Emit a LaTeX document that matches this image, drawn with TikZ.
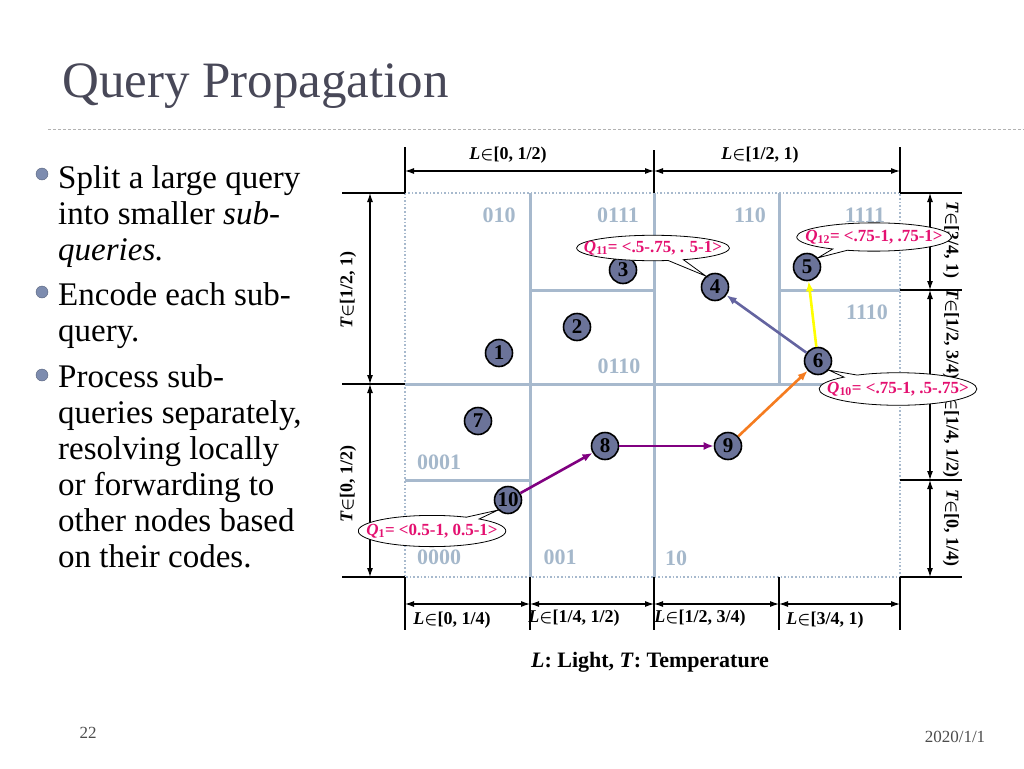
\documentclass[tikz,border=0pt]{standalone}
\usepackage{fontspec}
\setmainfont{Liberation Serif}
\usetikzlibrary{arrows.meta,shapes.callouts}

\definecolor{gridblue}{RGB}{167,185,205}
\definecolor{codeblue}{RGB}{165,184,203}
\definecolor{sensorfill}{RGB}{107,115,153}
\definecolor{querypink}{RGB}{228,16,112}
\definecolor{titlegray}{RGB}{72,72,88}
\definecolor{bulletblue}{RGB}{125,140,175}
\definecolor{flowpurple}{RGB}{128,0,128}
\definecolor{floworange}{RGB}{245,124,32}
\definecolor{flowslate}{RGB}{100,100,160}
\definecolor{flowyellow}{RGB}{255,255,0}

\newcommand{\dimL}{\textit{L}{\boldmath$\in$}}
\newcommand{\dimT}{\textit{T}{\boldmath$\in$}}

\tikzset{
  gridline/.style={gridblue, line width=3pt},
  border/.style={gridblue, line width=1.6pt, dotted},
  code/.style={text=codeblue, inner sep=0pt, font=\fontsize{22}{22}\selectfont\bfseries},
  sensor/.style={circle, draw=black, line width=1.6pt, fill=sensorfill, minimum size=27pt, inner sep=0pt, font=\fontsize{21}{21}\selectfont\bfseries},
  flow/.style={line width=2.6pt, -{Latex[length=10pt,width=8pt]}},
  dimline/.style={black, line width=1.1pt, {Latex[length=9pt,width=6pt]}-{Latex[length=9pt,width=6pt]}},
  tickline/.style={black, line width=1.1pt},
  dimlabel/.style={inner sep=0pt, font=\fontsize{18}{18}\selectfont\bfseries},
  qcall/.style={ellipse callout, draw=black, line width=0.8pt, fill=white, text=querypink, inner xsep=-15pt, inner ysep=3pt, callout pointer arc=12, font=\fontsize{17}{17}\selectfont\bfseries},
  bodytext/.style={anchor=base west, inner sep=0pt, font=\fontsize{33}{36}\selectfont},
  bulletdot/.style={circle, fill=bulletblue, draw=bulletblue!70!black, line width=0.4pt, minimum size=12pt, inner sep=0pt},
  footer/.style={inner sep=0pt, text=black!70, font=\fontsize{17}{17}\selectfont},
}

\begin{document}
\begin{tikzpicture}[x=1pt,y=-1pt]
  \useasboundingbox[fill=white] (0,0) rectangle (1024,768);

  % title and rule
  \node[anchor=base west, inner sep=0pt, text=titlegray, font=\fontsize{51}{51}\selectfont] (title) at (62,97) {Query Propagation};
  \draw[black!30, line width=1pt, dash pattern=on 3pt off 2pt] (48,129) -- (1024,129);

  % bullet text
  \node[bulletdot] (b1) at (42,174) {};
  \node[bulletdot] (b2) at (42,292) {};
  \node[bulletdot] (b3) at (42,375) {};
  \node[bodytext] (l1) at (58,188) {Split a large query};
  \node[bodytext] (l2) at (58,224) {into smaller \textit{sub-}};
  \node[bodytext] (l3) at (58,260) {\textit{queries.}};
  \node[bodytext] (l4) at (58,305) {Encode each sub-};
  \node[bodytext] (l5) at (58,341) {query.};
  \node[bodytext] (l6) at (58,387) {Process sub-};
  \node[bodytext] (l7) at (58,423) {queries separately,};
  \node[bodytext] (l8) at (58,459) {resolving locally};
  \node[bodytext] (l9) at (58,495) {or forwarding to};
  \node[bodytext] (l10) at (58,531) {other nodes based};
  \node[bodytext] (l11) at (58,567) {on their codes.};

  % zones
  \draw[gridline] (530,193) -- (530,577);
  \draw[gridline] (654,193) -- (654,577);
  \draw[gridline] (779,193) -- (779,384);
  \draw[gridline] (405,384) -- (900,384);
  \draw[gridline] (530,290) -- (654,290);
  \draw[gridline] (779,290) -- (900,290);
  \draw[gridline] (405,480) -- (530,480);
  \draw[border] (405,193) rectangle (900,577);

  % dimensions
  \draw[tickline] (405,147) -- (405,193);
  \draw[tickline] (654,150) -- (654,193);
  \draw[tickline] (900,147) -- (900,193);
  \draw[dimline] (405,171) -- (654,171);
  \draw[dimline] (654,171) -- (900,171);
  \foreach \y in {193,384,577}
    \draw[tickline] (342,\y) -- (405,\y);
  \draw[dimline] (370,193) -- (370,384);
  \draw[dimline] (370,384) -- (370,577);
  \foreach \y in {193,290,384,480,577}
    \draw[tickline] (900,\y) -- (962,\y);
  \draw[dimline] (930,193) -- (930,290);
  \draw[dimline] (930,290) -- (930,384);
  \draw[dimline] (930,384) -- (930,480);
  \draw[dimline] (930,480) -- (930,577);
  \foreach \x in {405,530,654,779,900}
    \draw[tickline] (\x,577) -- (\x,630);
  \draw[dimline] (405,604) -- (530,604);
  \draw[dimline] (530,604) -- (654,604);
  \draw[dimline] (654,604) -- (779,604);
  \draw[dimline] (779,604) -- (900,604);

  \node[dimlabel] (top1) at (508,155) {\dimL[0, 1/2)};
  \node[dimlabel] (top2) at (760,155) {\dimL[1/2, 1)};
  \node[dimlabel, rotate=90] (lft1) at (348,290) {\dimT[1/2, 1)};
  \node[dimlabel, rotate=90] (lft2) at (348,484) {\dimT[0, 1/2)};
  \node[dimlabel, rotate=-90] (rgt1) at (951,240) {\dimT[3/4, 1)};
  \node[dimlabel, rotate=-90] (rgt2) at (951,334) {\dimT[1/2, 3/4)};
  \node[dimlabel, rotate=-90] (rgt3) at (951,432) {\dimT[1/4, 1/2)};
  \node[dimlabel, rotate=-90] (rgt4) at (951,528) {\dimT[0, 1/4)};
  \node[dimlabel] (bot1) at (452,620) {\dimL[0, 1/4)};
  \node[dimlabel] (bot2) at (574,618) {\dimL[1/4, 1/2)};
  \node[dimlabel] (bot3) at (700,618) {\dimL[1/2, 3/4)};
  \node[dimlabel] (bot4) at (825,620) {\dimL[3/4, 1)};

  % zone codes
  \node[code] (c010) at (499,215) {010};
  \node[code] (c0111) at (618,215) {0111};
  \node[code] (c110) at (750,215) {110};
  \node[code] (c1111) at (865,215) {1111};
  \node[code] (c1110) at (867,312) {1110};
  \node[code] (c0110) at (619,366) {0110};
  \node[code] (c0001) at (439,462) {0001};
  \node[code] (c0000) at (439,557) {0000};
  \node[code] (c001) at (560,557) {001};
  \node[code] (c10) at (676,558) {10};

  % sensors
  \node[sensor] (n1) at (499,353) {1};
  \node[sensor] (n2) at (577,327) {2};
  \node[sensor] (n3) at (623,270) {3};
  \node[sensor] (n4) at (715,287) {4};
  \node[sensor] (n5) at (807,267) {5};
  \node[sensor] (n6) at (818,361) {6};
  \node[sensor] (n7) at (478,421) {7};
  \node[sensor] (n8) at (605,446) {8};
  \node[sensor] (n9) at (728,446) {9};
  \node[sensor] (n10) at (508,500) {10};

  % forwarding
  \draw[flow, flowpurple] (n10) -- (n8);
  \draw[flow, flowpurple] (n8) -- (n9);
  \draw[flow, floworange] (n9) -- (n6);
  \draw[flow, flowslate] (n6) -- (n4);
  \draw[flow, flowyellow] (n6) -- (n5);

  % sub-queries
  \node[qcall, inner ysep=2pt, callout absolute pointer={(n4.130)}] (q11) at (653,248) {\textit{Q}\textsubscript{11}= <.5-.75, . 5-1>};
  \node[qcall, inner xsep=-14pt, inner ysep=3pt, callout absolute pointer={(n5.40)}] (q12) at (874,237) {\textit{Q}\textsubscript{12}= <.75-1, .75-1>};
  \node[qcall, inner ysep=4.5pt, callout absolute pointer={(n6.-40)}] (q10) at (898,389) {\textit{Q}\textsubscript{10}= <.75-1, .5-.75>};
  \node[qcall, inner xsep=-13.5pt, inner ysep=4pt, callout absolute pointer={(n10.225)}] (q1) at (432,531) {\textit{Q}\textsubscript{1}= <0.5-1, 0.5-1>};

  % caption and footer
  \node[inner sep=0pt, font=\fontsize{22}{22}\selectfont\bfseries] (caption) at (650,662) {\textit{L}: Light, \textit{T}: Temperature};
  \node[footer] (page) at (88,733) {22};
  \node[footer] (date) at (955,737) {2020/1/1};
\end{tikzpicture}
\end{document}
